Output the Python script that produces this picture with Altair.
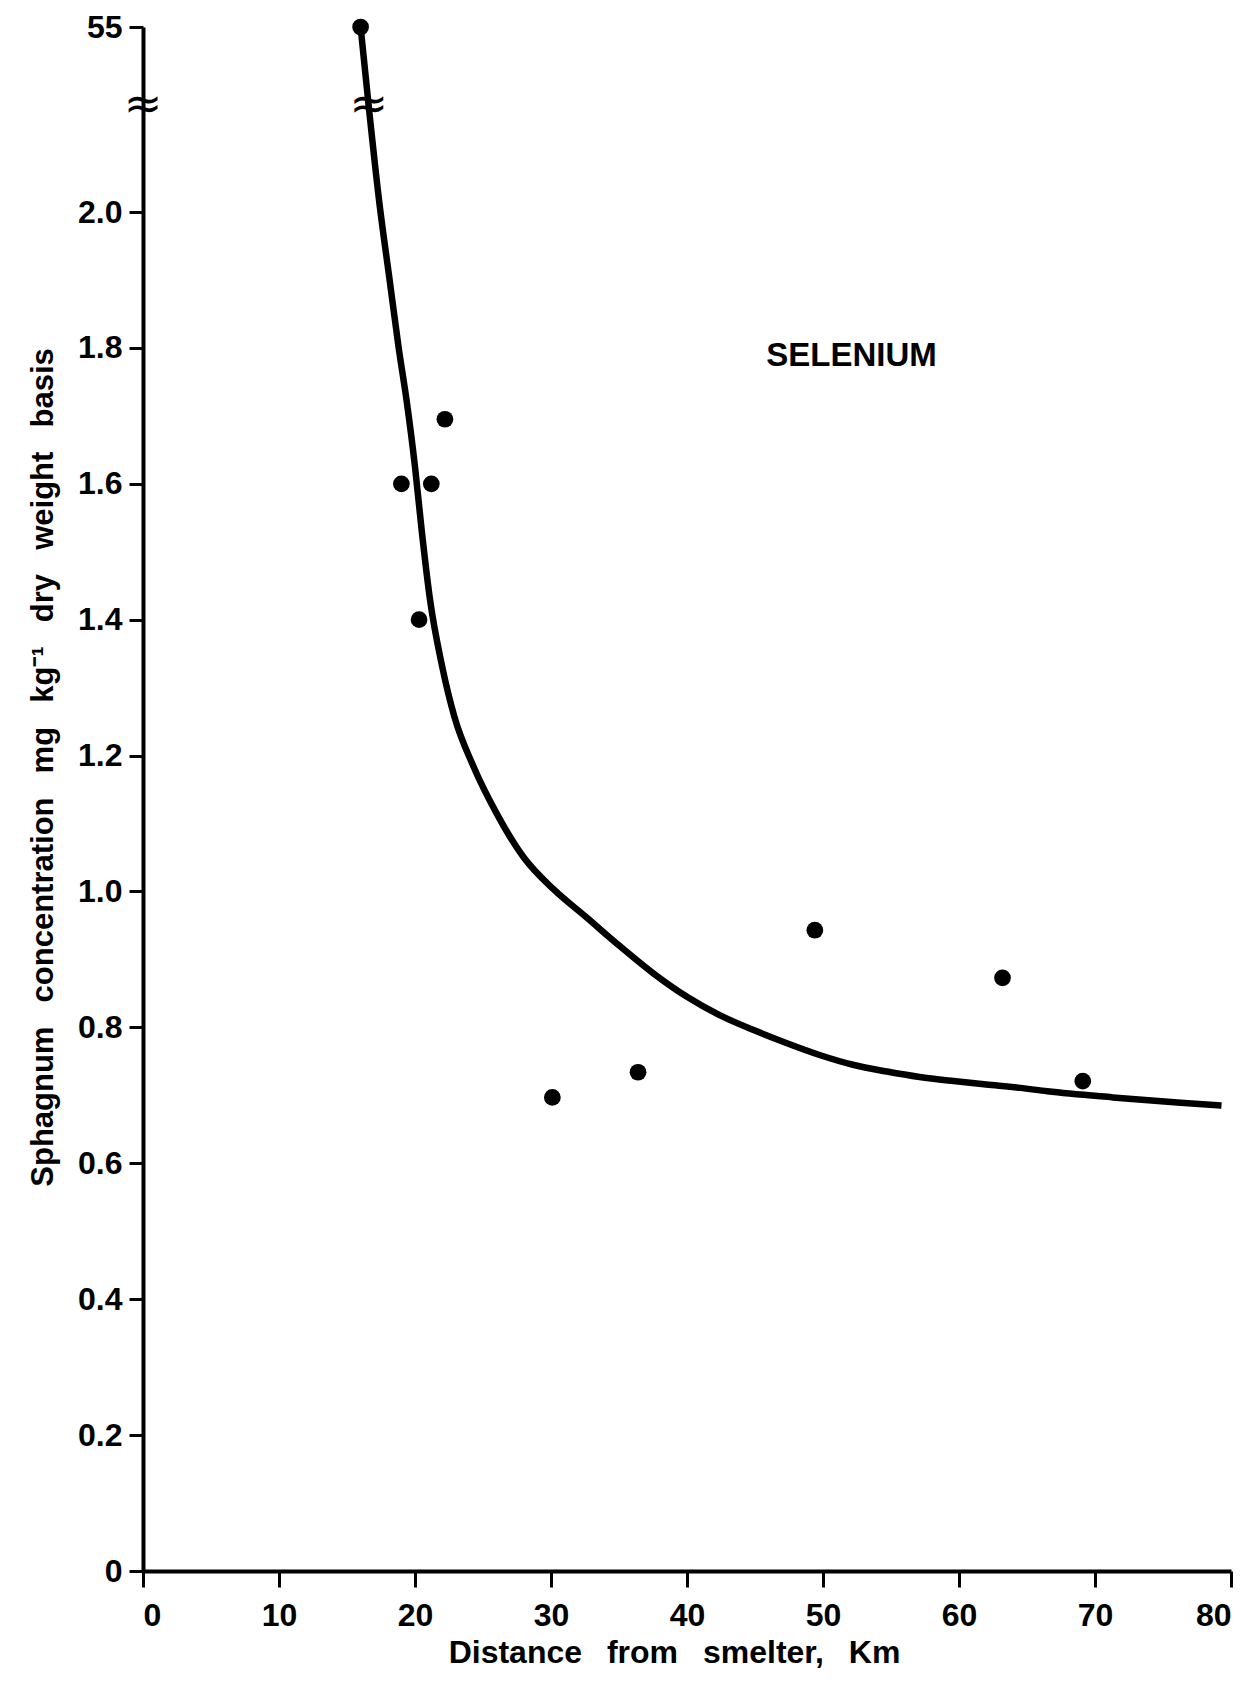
import altair as alt
import pandas as pd

# ---------------- data ----------------
dist_pts = [16.0, 19.0, 21.2, 22.2, 20.3, 30.1, 36.4, 49.4, 63.2, 69.1]
conc_pts = [55.0, 1.60, 1.60, 1.695, 1.40, 0.697, 0.734, 0.943, 0.873, 0.721]

curve_x = [16.0, 16.6, 17.4, 18.1, 18.8, 19.4, 20.0, 20.5, 21.1, 22.0, 22.9,
           24.3, 26.0, 28.0, 30.2, 32.6, 35.1, 37.5, 40.0, 42.4, 44.9, 47.3,
           49.8, 52.2, 54.7, 57.1, 59.6, 62.0, 64.5, 66.5, 71.3, 76.3, 79.3]
curve_y = [55.0, 2.155, 2.01, 1.905, 1.80, 1.72, 1.625, 1.53, 1.43, 1.331,
           1.257, 1.184, 1.115, 1.050, 1.003, 0.962, 0.919, 0.880, 0.845, 0.818,
           0.796, 0.777, 0.759, 0.745, 0.735, 0.727, 0.721, 0.716, 0.711, 0.706,
           0.697, 0.689, 0.685]

x_ticks = [0, 10, 20, 30, 40, 50, 60, 70, 80]
y_ticks = [0, 0.2, 0.4, 0.6, 0.8, 1.0, 1.2, 1.4, 1.6, 1.8, 2.0, 55]

break_value = 2.155          # where the y axis is broken
break_x = [0, 16.6]          # break marks on the axis and on the curve
label_text = ["SELENIUM"]
label_x = [52.1]
label_y = [1.788]

GAP = "\u2002 "
x_title = GAP.join(["Distance", "from", "smelter,", "Km"])
y_title = GAP.join(["Sphagnum", "concentration", "mg", "kg\u207b\u00b9", "dry",
                    "weight", "basis"])

# ---------------- layout ----------------
W, H = 1088, 1544
unit = 679.5                      # pixels per 1.0 below the break
y_domain = [0, break_value, 55]
y_range = [H, H - break_value * unit, 0]

FONT = "Liberation Sans, Arial, Helvetica, sans-serif"

pts = pd.DataFrame({"d": dist_pts, "c": conc_pts})
crv = pd.DataFrame({"d": curve_x, "c": curve_y, "o": list(range(len(curve_x)))})
brk = pd.DataFrame({"d": break_x, "c": [break_value] * len(break_x)})
lab = pd.DataFrame({"d": label_x, "c": label_y, "t": label_text})

xs = alt.Scale(domain=[0, 80], nice=False, zero=False)
ys = alt.Scale(domain=y_domain, range=y_range, nice=False, zero=False)

x_axis = alt.Axis(values=x_ticks, title=x_title, labelFont=FONT, labelFontSize=32,
                  labelFontWeight="bold", labelColor="black", labelPadding=13,
                  tickSize=16, tickWidth=3, tickColor="black",
                  domainColor="black", domainWidth=4, grid=False,
                  titleFont=FONT, titleFontSize=32, titleFontWeight="bold",
                  titleColor="black", titleX=531, titleY=91,
                  titleBaseline="alphabetic", titleAlign="center")
y_axis = alt.Axis(values=y_ticks, title=y_title, labelFont=FONT, labelFontSize=32,
                  labelFontWeight="bold", labelColor="black", labelPadding=7,
                  labelExpr="datum.value == 55 ? '55' : (datum.value == 0 ? '0' : format(datum.value, '.1f'))",
                  tickSize=14, tickWidth=3, tickColor="black",
                  domainColor="black", domainWidth=4, grid=False,
                  titleFont=FONT, titleFontSize=31, titleFontWeight="bold",
                  titleColor="black", titleAngle=270, titleX=-100, titleY=740,
                  titleBaseline="middle", titleAlign="center")

curve = alt.Chart(crv).mark_line(color="black", strokeWidth=6.5,
                                 interpolate="monotone").encode(
    x=alt.X("d:Q", scale=xs, axis=x_axis),
    y=alt.Y("c:Q", scale=ys, axis=y_axis),
    order="o:Q",
)
dots = alt.Chart(pts).mark_circle(color="black", size=280, opacity=1).encode(
    x=alt.X("d:Q", scale=xs), y=alt.Y("c:Q", scale=ys)
)
breaks = alt.Chart(brk).mark_text(text="\u2248", fontSize=46, font="DejaVu Sans",
                                  color="black", baseline="middle",
                                  align="center", dy=-2).encode(
    x=alt.X("d:Q", scale=xs), y=alt.Y("c:Q", scale=ys)
)
label = alt.Chart(lab).mark_text(fontSize=33, font=FONT, fontWeight="bold",
                                 color="black", baseline="middle",
                                 align="center").encode(
    x=alt.X("d:Q", scale=xs), y=alt.Y("c:Q", scale=ys), text="t:N"
)

chart = alt.layer(curve, dots, breaks, label).properties(
    width=W, height=H,
    autosize=alt.AutoSizeParams(type="none"),
    padding={"left": 135, "top": 19, "right": 12, "bottom": 100},
    background="white",
).configure_view(stroke=None)

chart.save("out.html", embed_options={"renderer": "svg", "actions": False})
